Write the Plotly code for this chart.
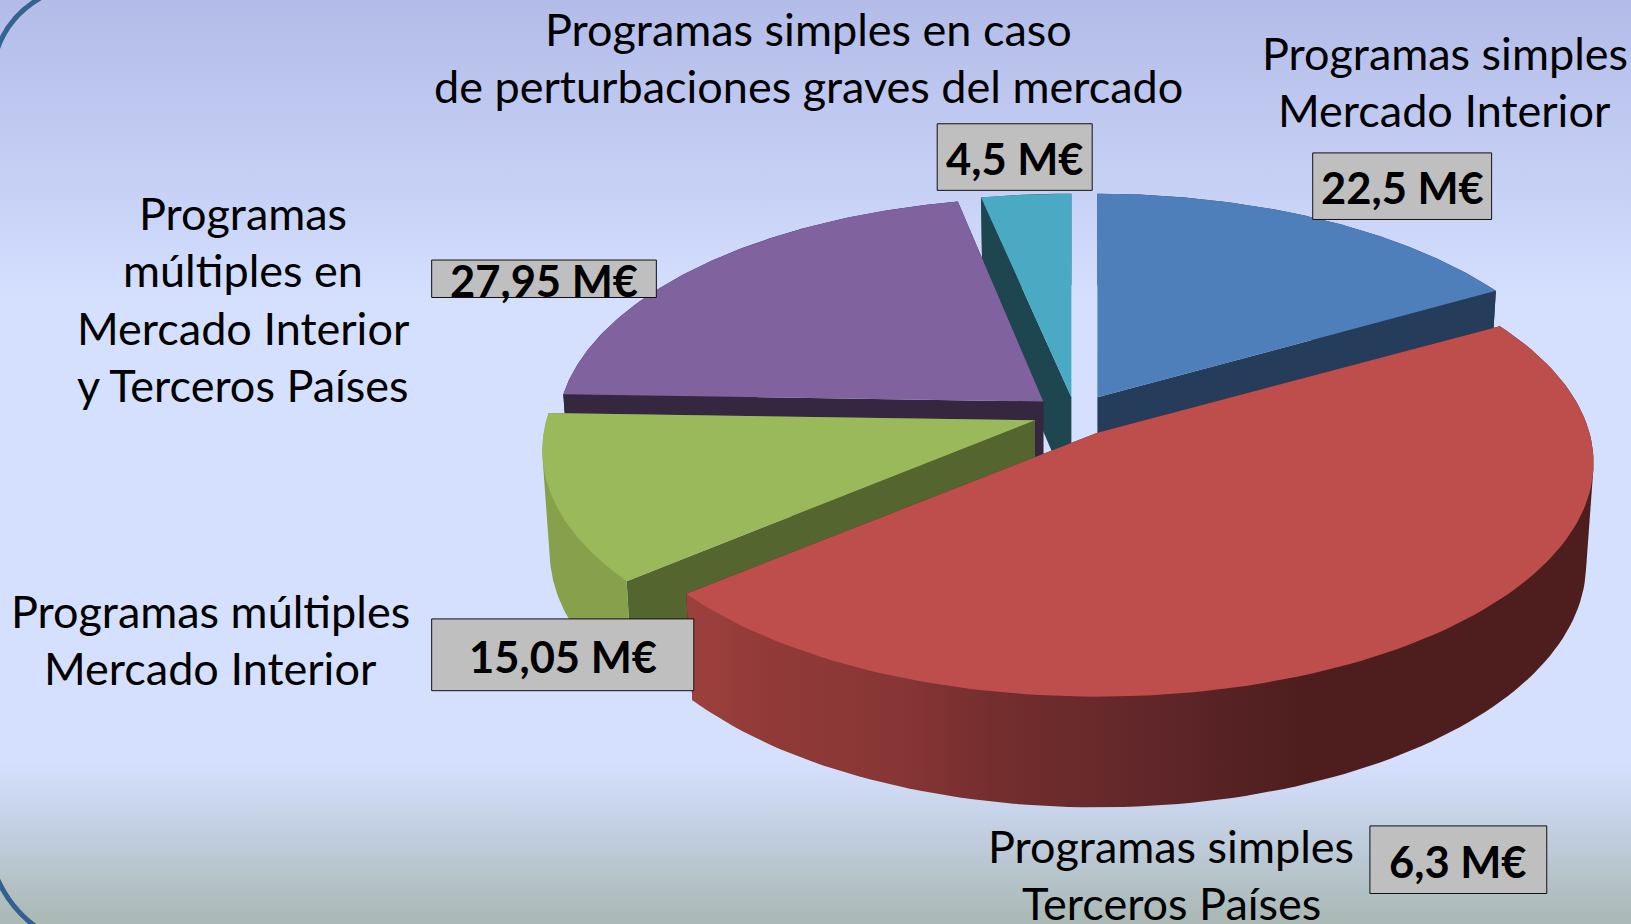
import numpy as np
import plotly.graph_objects as go

# ---- data ----
slice_names = ["Programas simples Mercado Interior", "Programas simples Terceros Países",
               "Programas múltiples Mercado Interior", "Programas múltiples en Mercado Interior y Terceros Países",
               "Programas simples en caso de perturbaciones graves del mercado"]
amounts_meur = [22.5, 6.3, 15.05, 27.95, 4.5]
# the drawn wedges do not follow the amounts; these are the angular shares seen in the picture (%)
drawn_share = [16.8, 47.1, 11.6, 21.3, 3.2]
amount_text = ["22,5 M€", "6,3 M€", "15,05 M€", "27,95 M€", "4,5 M€"]

top_colors = ["#4f7fbb", "#bd4e4b", "#9ab95a", "#80629e", "#4aaac4"]
cut_colors = ["#253c5b", "#4e1e1e", "#546530", "#352740", "#1e4650"]
rim_colors = ["#253c5b", None, "#87a04c", "#352740", "#1e4650"]
draw_order = [4, 0, 3, 2, 1]

# ---- layout constants (pixels of the 1631x924 page) ----
W, H = 1631, 924
S = 1631 / 1568
apex = [(1055*S, 382*S), (1055*S, 416*S), (995*S, 404*S), (1003*S, 386*S), (1030*S, 382*S)]
x_fit = [0.99, 1.0, 0.993, 0.98, 1.035]   # small per-wedge width corrections
A, B, K = 473*S, 221*S, 0.129     # disk half axes and perspective strength
DEPTH = 96*S
SHRINK = 0.985

box_xyxy = [(1262, 147, 1434, 211), (1317, 794, 1487, 859), (415, 595, 667, 664),
            (415, 250, 631, 286), (901, 119, 1050, 183)]
box_text_y = [180, 828, 631, 269, 152]

label_lines = [
    ("Programas simples en caso", 777, 28),
    ("de perturbaciones graves del mercado", 777, 83),
    ("Programas simples", 1389, 51),
    ("Mercado Interior", 1389, 106),
    ("Programas", 234, 205),
    ("múltiples en", 234, 260),
    ("Mercado Interior", 234, 315),
    ("y Terceros Países", 234, 370),
    ("Programas múltiples", 202, 587),
    ("Mercado Interior", 202, 642),
    ("Programas simples", 1126, 813),
    ("Terceros Países", 1126, 868),
]
FONT = "Lato"


def project(i, ang, r=1.0, bottom=False):
    """Angle in degrees clockwise from the top of the disk -> page pixels."""
    t = np.radians(ang)
    X, Y = r*np.sin(t), r*np.cos(t)
    s = 1/(1 + K*Y)
    x, y = A*X*s*x_fit[i], -B*Y*s
    if bottom:
        x, y = x*SHRINK, y*SHRINK + DEPTH*s
    return apex[i][0] + x, apex[i][1] + y


def hull(xs, ys):
    pts = sorted(set(zip(np.round(xs, 3).tolist(), np.round(ys, 3).tolist())))

    def half(seq):
        out = []
        for p in seq:
            while len(out) >= 2 and ((out[-1][0]-out[-2][0])*(p[1]-out[-2][1])
                                     - (out[-1][1]-out[-2][1])*(p[0]-out[-2][0])) <= 0:
                out.pop()
            out.append(p)
        return out[:-1]
    h = half(pts) + half(pts[::-1])
    h.append(h[0])
    return [p[0] for p in h], [p[1] for p in h]


def poly(xs, ys, color=None, gradient=None):
    kw = dict(x=list(xs), y=list(ys), mode="lines", fill="toself", line=dict(width=0),
              hoverinfo="skip", showlegend=False)
    if gradient:
        kw["fillgradient"] = gradient
    else:
        kw["fillcolor"] = color
    return go.Scatter(**kw)


fig = go.Figure()

# background
bg_scale = [[0, "#b3bce8"], [200/924, "#c8d2f6"], [300/924, "#d5e0ff"],
            [762/924, "#d5e0ff"], [850/924, "#bdcad8"], [915/924, "#abbab7"], [1, "#abbab7"]]
fig.add_trace(poly([0, W, W, 0, 0], [0, 0, H, H, 0],
                   gradient=dict(type="vertical", start=0, stop=H, colorscale=bg_scale)))

# wedges
bounds = np.concatenate([[0], np.cumsum(drawn_share)]) / sum(drawn_share) * 360
red_grad = dict(type="horizontal", start=668*S, stop=1300*S,
                colorscale=[[0, "#9c403d"], [0.11, "#913a38"], [0.21, "#8c3836"], [0.31, "#873635"],
                            [0.45, "#752e2e"], [0.68, "#62272a"], [0.92, "#4e1e1e"], [1, "#4e1e1e"]])

for i in draw_order:
    a0, a1 = bounds[i], bounds[i+1]
    angs = np.linspace(a0, a1, 120)
    # cut faces
    for a in (a1, a0):
        rx, ry = project(i, a)
        bx, by = project(i, a, bottom=True)
        ax, ay = project(i, a, 0.0)
        cx, cy = project(i, a, 0.0, bottom=True)
        fig.add_trace(poly([ax, rx, bx, cx, ax], [ay, ry, by, cy, ay], cut_colors[i]))
    # outer wall: everything swept between the top rim and the bottom rim
    tx, ty = project(i, angs)
    bx, by = project(i, angs, bottom=True)
    wx, wy = hull(np.concatenate([tx, bx]), np.concatenate([ty, by]))
    if i == 1:
        fig.add_trace(poly(wx, wy, gradient=red_grad))
    else:
        fig.add_trace(poly(wx, wy, rim_colors[i]))
    # top face
    ax, ay = project(i, 0, 0.0)
    fig.add_trace(poly(np.concatenate([[ax], tx, [ax]]), np.concatenate([[ay], ty, [ay]]), top_colors[i]))

shapes = []
# rounded corner of the slide frame
shapes.append(dict(type="path", xref="x", yref="y", path="M -3,50 Q 8,17 40,-2",
                   line=dict(color="#33638f", width=5)))
shapes.append(dict(type="path", xref="x", yref="y", path="M -3,878 Q 10,908 36,927",
                   line=dict(color="#33618f", width=5)))
for (x0, y0, x1, y1) in box_xyxy:
    shapes.append(dict(type="rect", xref="x", yref="y", x0=x0*S, y0=y0*S, x1=x1*S, y1=y1*S,
                       fillcolor="#bfbfbf", line=dict(color="#111111", width=1)))

ann = []
for (txt, x, y) in label_lines:
    ann.append(dict(text=txt, x=x*S, y=y*S, xref="x", yref="y", showarrow=False,
                    xanchor="center", yanchor="middle",
                    font=dict(family=FONT, size=45, color="#000000")))
for (txt, b, y) in zip(amount_text, box_xyxy, box_text_y):
    ann.append(dict(text=f"<b>{txt}</b>", x=(b[0]+b[2])/2*S, y=y*S, xref="x", yref="y", showarrow=False,
                    xanchor="center", yanchor="middle",
                    font=dict(family=FONT, size=43.5, color="#000000")))

fig.update_layout(width=W, height=H, margin=dict(l=0, r=0, t=0, b=0), showlegend=False,
                  paper_bgcolor="#d5e0ff", plot_bgcolor="#d5e0ff",
                  xaxis=dict(range=[0, W], visible=False, fixedrange=True),
                  yaxis=dict(range=[H, 0], visible=False, fixedrange=True),
                  shapes=shapes, annotations=ann)
fig.write_html("out.html", config={"displayModeBar": False},
               post_script="document.body.style.margin='0';")
